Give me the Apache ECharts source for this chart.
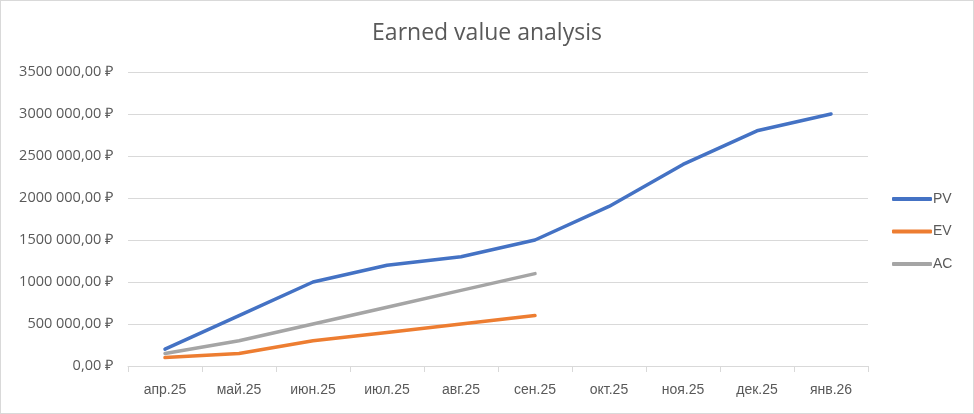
<!DOCTYPE html>
<html><head><meta charset="utf-8">
<script src="https://cdn.jsdelivr.net/npm/echarts@6/dist/echarts.min.js"></script>
<style>html,body{margin:0;padding:0;background:#fff}#c{width:972px;height:412px;border:1px solid #d9d9d9}</style>
</head><body><div id="c"></div>
<script>
const categories = ['апр.25','май.25','июн.25','июл.25','авг.25','сен.25','окт.25','ноя.25','дек.25','янв.26'];
const pv = [200000, 600000, 1000000, 1200000, 1300000, 1500000, 1900000, 2400000, 2800000, 3000000];
const ev = [100000, 150000, 300000, 400000, 500000, 600000];
const ac = [150000, 300000, 500000, 700000, 900000, 1100000];
const yTickLabels = ['0,00 ₽','500 000,00 ₽','1000 000,00 ₽','1500 000,00 ₽','2000 000,00 ₽','2500 000,00 ₽','3000 000,00 ₽','3500 000,00 ₽'];

const chart = echarts.init(document.getElementById('c'), null, {renderer:'canvas'});
const lineSeries = (name, data, color) => ({
  name, type:'line', data, symbol:'none', smooth:false,
  lineStyle:{color, width:3.5, cap:'round', join:'round'}, itemStyle:{color}
});
chart.setOption({
  animation:false,
  title:{text:'Earned value analysis', left:'center', top:16,
    textStyle:{fontFamily:'Open Sans', fontWeight:'normal', fontSize:23, color:'#595959'}},
  legend:{orient:'vertical', left:891, top:191, padding:0, itemGap:18.5, itemWidth:40, itemHeight:4,
    icon:'roundRect',
    textStyle:{fontFamily:'Liberation Sans', fontSize:14, color:'#595959', padding:[0,0,0,-4]},
    data:['PV','EV','AC']},
  grid:{left:127, right:105, top:71, bottom:47, containLabel:false},
  xAxis:{type:'category', data:categories, boundaryGap:true,
    axisLine:{lineStyle:{color:'#d9d9d9', width:1}},
    axisTick:{show:true, length:6, lineStyle:{color:'#d9d9d9'}},
    axisLabel:{fontFamily:'Liberation Sans', fontSize:14, color:'#595959', margin:17}},
  yAxis:{type:'value', min:0, max:3500000, interval:500000,
    axisLine:{show:false}, axisTick:{show:false},
    splitLine:{lineStyle:{color:'#d9d9d9', width:1}},
    axisLabel:{fontFamily:'Open Sans', fontSize:14.5, color:'#595959', margin:15,
      formatter:(v)=>yTickLabels[Math.round(v/500000)]}},
  series:[lineSeries('PV', pv, '#4472C4'), lineSeries('EV', ev, '#ED7D31'), lineSeries('AC', ac, '#A5A5A5')]
});
</script></body></html>
